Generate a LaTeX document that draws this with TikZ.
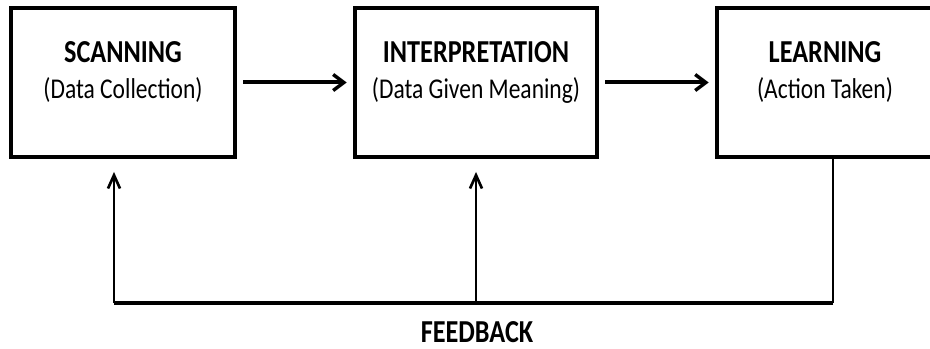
\documentclass[tikz,border=0pt]{standalone}
\usepackage{fontspec}
\setmainfont{Carlito}[FakeStretch=0.82]
\usetikzlibrary{arrows.meta,positioning,calc}

\begin{document}
\begin{tikzpicture}[x=0.75pt,y=-0.75pt]
        \tikzset{
            stage/.style={draw,rectangle,line width=2.4pt,minimum height=111.75pt,inner sep=0pt},
            head/.style={anchor=base,inner sep=1pt,font=\bfseries\fontsize{24}{29}\selectfont},
            sub/.style={anchor=base,inner sep=1pt,font=\fontsize{21.5}{26}\selectfont},
            flow/.style={-{Straight Barb[length=8pt,width=12pt,line width=2.6pt]},line width=3pt,shorten <=5pt,shorten >=5pt},
            fb/.style={line width=2pt},
            fbarrow/.style={fb,-{Straight Barb[length=10pt,width=9pt,line width=2pt]},shorten >=10pt},
        }
        \useasboundingbox (0,0) rectangle (930,349);

        % Stages
        \foreach \name/\x/\w/\headtxt/\subtxt in {scan/123/168/SCANNING/(Data Collection),interp/476/181.5/INTERPRETATION/(Data Given Meaning),learn/825/162/LEARNING/(Action Taken)} {
            \node[stage,minimum width=\w pt] (\name) at (\x,82.5) {};
            \node[head] (\name H) at (\x,63) {\headtxt};
            \node[sub] (\name S) at (\x,99) {\subtxt};
        }

        % Forward arrows
        \draw[flow] (scan) -- (interp);
        \draw[flow] (interp) -- (learn);

        % Feedback loop
        \coordinate (fbL) at (114,303);
        \coordinate (fbM) at (476,303);
        \coordinate (fbR) at (833,303);
        \draw[fb] (learn.south -| fbR) -- (fbR);
        \draw[line width=2.8pt] (fbR) -- (fbL);
        \draw[fbarrow] (fbL) -- (fbL |- scan.south);
        \draw[fbarrow] (fbM) -- (fbM |- interp.south);
        \node[head] (fbtxt) at (477,342) {FEEDBACK};
    \end{tikzpicture}
\end{document}
